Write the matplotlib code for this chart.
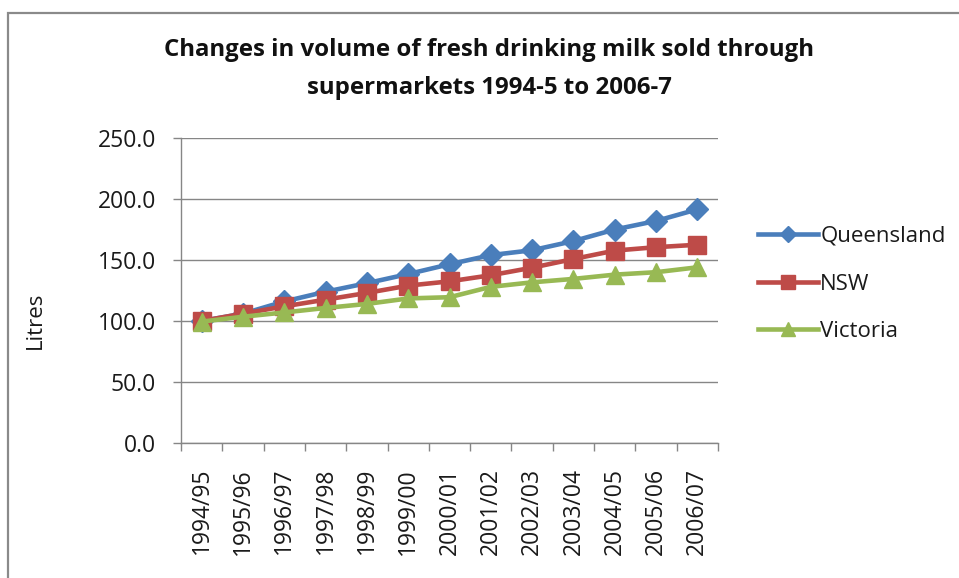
import matplotlib
matplotlib.use("Agg")
import matplotlib.pyplot as plt
from matplotlib.patches import Rectangle
import numpy as np

years = ["1994/95", "1995/96", "1996/97", "1997/98", "1998/99", "1999/00", "2000/01",
         "2001/02", "2002/03", "2003/04", "2004/05", "2005/06", "2006/07"]
queensland = [100, 106, 116, 124, 131, 138.5, 146.5, 154, 158, 165.5, 175, 182, 191.5]
nsw = [100, 106, 112, 117.5, 123, 129, 132.5, 137.5, 143.7, 150.8, 157.7, 160.5, 162.5]
victoria = [99.5, 103.5, 107, 110.7, 114, 118.5, 119.5, 128, 131.7, 134.5, 138, 140, 144]
series_names = ["Queensland", "NSW", "Victoria"]
yticks = [0, 50, 100, 150, 200, 250]

FONT = "Open Sans"
plt.rcParams['font.family'] = [FONT, 'DejaVu Sans']

W, H = 959, 578
fig = plt.figure(figsize=(W / 100, H / 100), dpi=100)
fig.patch.set_facecolor("white")

# outer border
fig.patches.append(Rectangle((8 / W, -0.05), 1.1, 1 - 12.5 / H + 0.05, transform=fig.transFigure,
                             fill=False, edgecolor="#8a8a8a", lw=1.6))

ax = fig.add_axes([181 / W, 1 - 443 / H, (718 - 181) / W, (443 - 138) / H])
x = np.arange(len(years))

ax.plot(x, queensland, color="#4A7EBB", lw=3.3, marker="D", ms=11.5, label=series_names[0], zorder=3)
ax.plot(x, nsw, color="#BE4B48", lw=3.3, marker="s", ms=12.5, label=series_names[1], zorder=4)
ax.plot(x, victoria, color="#98B954", lw=3.3, marker="^", ms=13.5, label=series_names[2], zorder=5)

ax.set_xlim(-0.5, len(years) - 0.5)
ax.set_ylim(0, 250)
ax.set_yticks(yticks)
ax.set_yticklabels([f"{v:.1f}" for v in yticks])
ax.yaxis.grid(True, color="#868686", lw=1.0)
ax.set_axisbelow(True)

ax.set_xticks(x)
ax.set_xticklabels(years, rotation=90, va="top", ha="center")
ax.set_xticks(np.arange(-0.5, len(years) + 0.5, 1), minor=True)
ax.tick_params(axis="x", which="major", length=0, pad=18, labelsize=16.5, labelcolor="#1a1a1a")
ax.tick_params(axis="x", which="minor", length=5.5, color="#868686", width=1)
ax.tick_params(axis="y", which="major", length=6, color="#868686", width=1, pad=12,
               labelsize=16.5, labelcolor="#1a1a1a")

for s in ["top", "right"]:
    ax.spines[s].set_visible(False)
for s in ["left", "bottom"]:
    ax.spines[s].set_color("#868686")
    ax.spines[s].set_linewidth(1)

fig.text(35 / W, 1 - 320 / H, "Litres", rotation=90, ha="center", va="center", fontsize=16,
         color="#1a1a1a")

fig.text(489 / W, 1 - 50 / H, "Changes in volume of fresh drinking milk sold through",
         ha="center", va="center", fontsize=17.3, fontweight="bold", color="#111111")
fig.text(489 / W, 1 - 88 / H, "supermarkets 1994-5 to 2006-7",
         ha="center", va="center", fontsize=17.3, fontweight="bold", color="#111111")

leg = fig.legend(loc="center left", bbox_to_anchor=(758 / W, 1 - 284 / H), frameon=False,
                 fontsize=16, handlelength=2.7, handletextpad=0.1, labelspacing=1.2,
                 borderpad=0, borderaxespad=0, markerscale=0.75)
for t in leg.get_texts():
    t.set_color("#1a1a1a")

fig.savefig("out.png", dpi=100, facecolor="white")
